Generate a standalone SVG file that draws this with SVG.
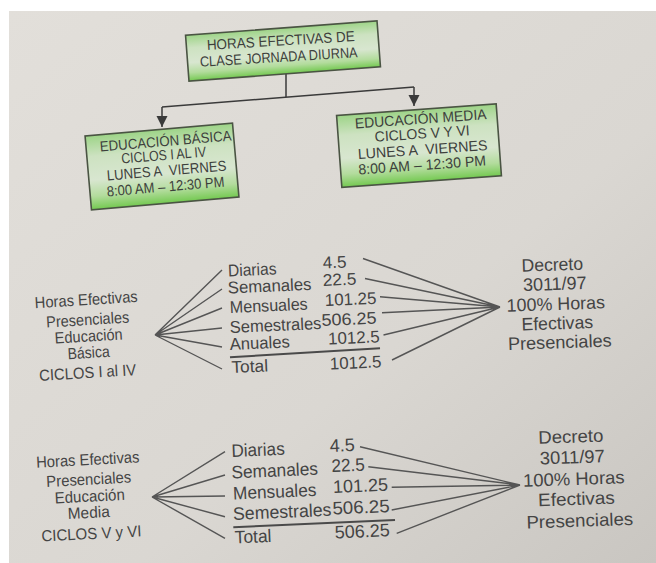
<svg xmlns="http://www.w3.org/2000/svg" width="656" height="563" viewBox="0 0 656 563">
<defs>
<linearGradient id="paper" x1="0" y1="0" x2="1" y2="1">
<stop offset="0" stop-color="#e2dfda"/>
<stop offset="0.6" stop-color="#dad7d2"/>
<stop offset="1" stop-color="#c9c6c1"/>
</linearGradient>
<linearGradient id="boxfill" x1="0" y1="0" x2="0" y2="1">
<stop offset="0" stop-color="#9dd487"/>
<stop offset="0.28" stop-color="#cde2c1"/>
<stop offset="0.6" stop-color="#d8e6d0"/>
<stop offset="0.82" stop-color="#b3dc9d"/>
<stop offset="1" stop-color="#74c951"/>
</linearGradient>
<marker id="arr" markerUnits="userSpaceOnUse" markerWidth="12" markerHeight="12" refX="11" refY="5.5" orient="auto">
<path d="M0,0 L11,5.5 L0,11 z" fill="#3a3a3a"/>
</marker>
</defs>
<style>
.box{fill:url(#boxfill);stroke:#4a5443;stroke-width:1.6}
.bt{font-family:"Liberation Sans",Arial,sans-serif;font-size:14.5px;fill:#3d3f3c;text-anchor:middle}
.lbl{font-family:"Liberation Sans",Arial,sans-serif;font-size:16px;fill:#444;text-anchor:middle}
.it{font-family:"Liberation Sans",Arial,sans-serif;font-size:17px;fill:#444}
.it2{font-family:"Liberation Sans",Arial,sans-serif;font-size:18px;fill:#444}
.rt{font-family:"Liberation Sans",Arial,sans-serif;font-size:18px;fill:#444;text-anchor:middle}
.con{fill:none;stroke:#3a3a3a;stroke-width:1.5}
.fan{fill:none;stroke:#555;stroke-width:1.4}
.ul{fill:none;stroke:#4a4a4a;stroke-width:2}
</style>
<rect x="0" y="0" width="656" height="563" fill="#ffffff"/>
<rect x="9" y="11" width="647" height="552" fill="url(#paper)"/>

<g id="connectors">
<path class="con" d="M286,70 V97"/>
<path class="con" d="M162,107 L414,87"/>
<path class="con" d="M162,107 V127" marker-end="url(#arr)"/>
<path class="con" d="M414,87 V106" marker-end="url(#arr)"/>
<g id="fan1">
<path class="fan" d="M155,335 L222,270 M155,335 L222,289 M155,335 L222,308 M155,335 L222,328 M155,335 L222,347 M155,335 L222,369"/>
<path class="fan" d="M500,307 L363,258.5 M500,307 L365,278.5 M500,307 L380,296.7 M500,307 L382,312.7 M500,307 L383.5,335 M500,307 L392,360"/>
<path class="ul" d="M230,357.3 L380,348.3"/>
</g>
<g id="fan2">
<path class="fan" d="M152,497 L225,451.7 M152,497 L225,475 M152,497 L225,496 M152,497 L225,516.7 M152,497 L225,538.3"/>
<path class="fan" d="M520,485 L360,446.7 M520,485 L368.3,466.7 M520,485 L391.7,487.3 M520,485 L391.7,510 M520,485 L396.7,533.3"/>
<path class="ul" d="M233.3,527.3 L395,520"/>
</g>
</g>

<g id="top-box">
<rect class="box" x="187" y="28" width="192" height="46" transform="rotate(-4.3 283 51)"/>
<text class="bt" x="281" y="45.5" transform="rotate(-3.5 281 45.5)" textLength="148" lengthAdjust="spacingAndGlyphs">HORAS EFECTIVAS DE</text>
<text class="bt" x="279" y="62" transform="rotate(-3.5 279 62)" textLength="158" lengthAdjust="spacingAndGlyphs">CLASE JORNADA DIURNA</text>
</g>

<g id="basica-box">
<rect class="box" x="88" y="129.5" width="148" height="74" transform="rotate(-5 162 166.5)"/>
<text class="bt" x="166" y="146" transform="rotate(-4.8 166 146)" textLength="132" lengthAdjust="spacingAndGlyphs">EDUCACIÓN BÁSICA</text>
<text class="bt" x="164" y="160" transform="rotate(-4.8 164 160)" textLength="85" lengthAdjust="spacingAndGlyphs">CICLOS I AL IV</text>
<text class="bt" x="167" y="175.5" transform="rotate(-4.8 167 175.5)" textLength="120" lengthAdjust="spacingAndGlyphs" xml:space="preserve">LUNES A  VIERNES</text>
<text class="bt" x="166" y="191.5" transform="rotate(-4.8 166 191.5)" textLength="118" lengthAdjust="spacingAndGlyphs">8:00 AM – 12:30 PM</text>
</g>

<g id="media-box">
<rect class="box" x="339" y="109.6" width="160" height="72" transform="rotate(-4.2 419 145.6)"/>
<text class="bt" x="421" y="123.8" transform="rotate(-4 421 123.8)" textLength="132" lengthAdjust="spacingAndGlyphs">EDUCACIÓN MEDIA</text>
<text class="bt" x="422.5" y="138.5" transform="rotate(-4 422.5 138.5)" textLength="95" lengthAdjust="spacingAndGlyphs">CICLOS V Y VI</text>
<text class="bt" x="423" y="154.5" transform="rotate(-4 423 154.5)" textLength="130" lengthAdjust="spacingAndGlyphs" xml:space="preserve">LUNES A  VIERNES</text>
<text class="bt" x="422.5" y="170" transform="rotate(-4 422.5 170)" textLength="128" lengthAdjust="spacingAndGlyphs">8:00 AM – 12:30 PM</text>
</g>

<g id="basica-label">
<text class="lbl" x="86.5" y="305" transform="rotate(-3.5 86.5 305)" textLength="103" lengthAdjust="spacingAndGlyphs">Horas Efectivas</text>
<text class="lbl" x="88" y="325" transform="rotate(-3.5 88 325)" textLength="83" lengthAdjust="spacingAndGlyphs">Presenciales</text>
<text class="lbl" x="89" y="341.5" transform="rotate(-3.5 89 341.5)" textLength="68" lengthAdjust="spacingAndGlyphs">Educación</text>
<text class="lbl" x="89" y="358" transform="rotate(-3.5 89 358)" textLength="42" lengthAdjust="spacingAndGlyphs">Básica</text>
<text class="lbl" x="88" y="378" transform="rotate(-3.5 88 378)" textLength="97" lengthAdjust="spacingAndGlyphs">CICLOS I al IV</text>
</g>

<g id="basica-items">
<text class="it" x="228.3" y="276.5" transform="rotate(-2.5 228.3 276.5)" textLength="48.4" lengthAdjust="spacingAndGlyphs">Diarias</text>
<text class="it" x="228" y="293.5" transform="rotate(-2.5 228 293.5)" textLength="83.7" lengthAdjust="spacingAndGlyphs">Semanales</text>
<text class="it" x="230" y="313" transform="rotate(-2.5 230 313)" textLength="78" lengthAdjust="spacingAndGlyphs">Mensuales</text>
<text class="it" x="230" y="333" transform="rotate(-2.5 230 333)" textLength="91.7" lengthAdjust="spacingAndGlyphs">Semestrales</text>
<text class="it" x="230" y="350" transform="rotate(-2.5 230 350)" textLength="60" lengthAdjust="spacingAndGlyphs">Anuales</text>
<text class="it" x="231.7" y="373" transform="rotate(-2.5 231.7 373)" textLength="36.6" lengthAdjust="spacingAndGlyphs">Total</text>
<text class="it" x="323" y="268.5" transform="rotate(-2.5 323 268.5)" textLength="23.7" lengthAdjust="spacingAndGlyphs">4.5</text>
<text class="it" x="323" y="286" transform="rotate(-2.5 323 286)" textLength="33.7" lengthAdjust="spacingAndGlyphs">22.5</text>
<text class="it" x="325" y="306" transform="rotate(-2.5 325 306)" textLength="51.7" lengthAdjust="spacingAndGlyphs">101.25</text>
<text class="it" x="321.7" y="326" transform="rotate(-2.5 321.7 326)" textLength="55" lengthAdjust="spacingAndGlyphs">506.25</text>
<text class="it" x="328.3" y="344.5" transform="rotate(-2.5 328.3 344.5)" textLength="51.7" lengthAdjust="spacingAndGlyphs">1012.5</text>
<text class="it" x="330" y="369.5" transform="rotate(-2.5 330 369.5)" textLength="51.7" lengthAdjust="spacingAndGlyphs">1012.5</text>
</g>

<g id="basica-decreto">
<text class="rt" x="552.5" y="270.7" transform="rotate(-2 552.5 270.7)" textLength="61.6" lengthAdjust="spacingAndGlyphs">Decreto</text>
<text class="rt" x="555" y="290" transform="rotate(-2 555 290)" textLength="63.7" lengthAdjust="spacingAndGlyphs">3011/97</text>
<text class="rt" x="556" y="310" transform="rotate(-2 556 310)" textLength="98.3" lengthAdjust="spacingAndGlyphs">100% Horas</text>
<text class="rt" x="557.5" y="329.3" transform="rotate(-2 557.5 329.3)" textLength="71.6" lengthAdjust="spacingAndGlyphs">Efectivas</text>
<text class="rt" x="560" y="348.3" transform="rotate(-2 560 348.3)" textLength="103.7" lengthAdjust="spacingAndGlyphs">Presenciales</text>
</g>

<g id="media-label">
<text class="lbl" x="88" y="465" transform="rotate(-3 88 465)" textLength="103.3" lengthAdjust="spacingAndGlyphs">Horas Efectivas</text>
<text class="lbl" x="89" y="484.7" transform="rotate(-3 89 484.7)" textLength="85" lengthAdjust="spacingAndGlyphs">Presenciales</text>
<text class="lbl" x="90" y="501.7" transform="rotate(-3 90 501.7)" textLength="70" lengthAdjust="spacingAndGlyphs">Educación</text>
<text class="lbl" x="89" y="518" transform="rotate(-3 89 518)" textLength="42" lengthAdjust="spacingAndGlyphs">Media</text>
<text class="lbl" x="91.7" y="539" transform="rotate(-3 91.7 539)" textLength="100" lengthAdjust="spacingAndGlyphs">CICLOS V y VI</text>
</g>

<g id="media-items">
<text class="it2" x="231.7" y="457" transform="rotate(-2.5 231.7 457)" textLength="53.3" lengthAdjust="spacingAndGlyphs">Diarias</text>
<text class="it2" x="231.7" y="478.5" transform="rotate(-2.5 231.7 478.5)" textLength="86.6" lengthAdjust="spacingAndGlyphs">Semanales</text>
<text class="it2" x="233.3" y="499.5" transform="rotate(-2.5 233.3 499.5)" textLength="83.4" lengthAdjust="spacingAndGlyphs">Mensuales</text>
<text class="it2" x="233.3" y="520" transform="rotate(-2.5 233.3 520)" textLength="98.4" lengthAdjust="spacingAndGlyphs">Semestrales</text>
<text class="it2" x="235" y="543.5" transform="rotate(-2.5 235 543.5)" textLength="36.7" lengthAdjust="spacingAndGlyphs">Total</text>
<text class="it2" x="330" y="452" transform="rotate(-2.5 330 452)" textLength="25" lengthAdjust="spacingAndGlyphs">4.5</text>
<text class="it2" x="331.7" y="472" transform="rotate(-2.5 331.7 472)" textLength="33.3" lengthAdjust="spacingAndGlyphs">22.5</text>
<text class="it2" x="333.3" y="493" transform="rotate(-2.5 333.3 493)" textLength="55" lengthAdjust="spacingAndGlyphs">101.25</text>
<text class="it2" x="332.7" y="514.5" transform="rotate(-2.5 332.7 514.5)" textLength="57.3" lengthAdjust="spacingAndGlyphs">506.25</text>
<text class="it2" x="335" y="538.5" transform="rotate(-2.5 335 538.5)" textLength="55" lengthAdjust="spacingAndGlyphs">506.25</text>
</g>

<g id="media-decreto">
<text class="rt" x="571" y="442.7" transform="rotate(-2 571 442.7)" textLength="65" lengthAdjust="spacingAndGlyphs">Decreto</text>
<text class="rt" x="572.5" y="463.3" transform="rotate(-2 572.5 463.3)" textLength="65" lengthAdjust="spacingAndGlyphs">3011/97</text>
<text class="rt" x="574" y="485" transform="rotate(-2 574 485)" textLength="101.7" lengthAdjust="spacingAndGlyphs">100% Horas</text>
<text class="rt" x="576.7" y="505" transform="rotate(-2 576.7 505)" textLength="76.7" lengthAdjust="spacingAndGlyphs">Efectivas</text>
<text class="rt" x="580" y="526.7" transform="rotate(-2 580 526.7)" textLength="106.7" lengthAdjust="spacingAndGlyphs">Presenciales</text>
</g>
</svg>
